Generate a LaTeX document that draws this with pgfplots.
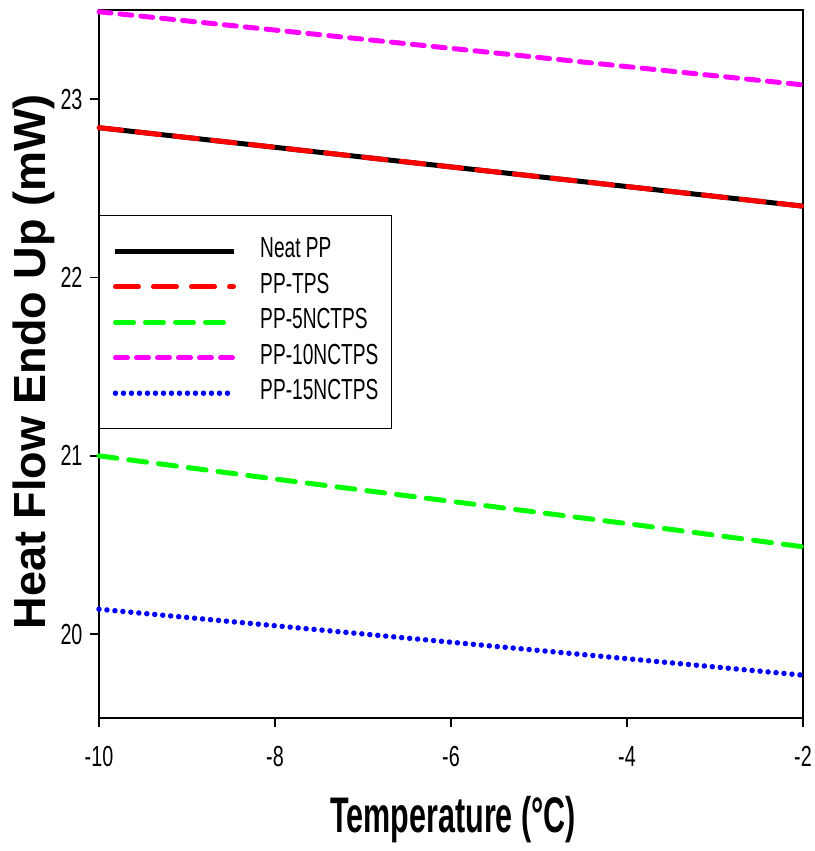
\documentclass[border=0pt]{standalone}
\usepackage{fontspec}
\setmainfont{Liberation Sans}
\newfontfamily\narrowfont[FakeStretch=0.68]{Liberation Sans}
\newfontfamily\legfont[FakeStretch=0.66]{Liberation Sans}
\newfontfamily\xlabfont[FakeStretch=0.61]{Liberation Sans}
\usepackage{pgfplots}
\pgfplotsset{compat=1.18}
\definecolor{myred}{RGB}{255,0,0}
\definecolor{mygreen}{RGB}{0,255,0}
\definecolor{mymag}{RGB}{255,0,255}
\definecolor{myblue}{RGB}{0,0,255}
\begin{document}
\begin{tikzpicture}
\begin{axis}[
  at={(0pt,0pt)}, anchor=south west,
  scale only axis,
  width=704pt, height=708pt,
  xmin=-10, xmax=-2,
  ymin=19.53, ymax=23.50,
  xtick={-10,-8,-6,-4,-2},
  ytick={20,21,22,23},
  xtick pos=left, ytick pos=left,
  tick align=outside,
  major tick length=9pt,
  every tick/.style={black, line width=1.5pt},
  axis line style={line width=1.5pt},
  /pgf/number format/assume math mode=true,
  ticklabel style={font=\narrowfont\fontsize{29}{33}\selectfont},
  xticklabel style={yshift=-16pt},
  yticklabel style={xshift=-4pt},
  xlabel={Temperature (°C)},
  ylabel={Heat Flow Endo Up (mW)},
  xlabel style={font=\xlabfont\bfseries\fontsize{50}{54}\selectfont, at={(axis description cs:0.503,-0.144)}, anchor=center},
  ylabel style={font=\bfseries\fontsize{45}{50}\selectfont, at={(axis description cs:-0.0923,0.503)}, anchor=center},
  clip=false,
  legend image code/.code={\draw[#1] (0pt,0pt) -- (118pt,0pt);},
  legend cell align=left,
  legend style={
    at={(axis description cs:0,0.7105)}, anchor=north west,
    draw=black, line width=1.5pt, fill=white,
    font=\legfont\fontsize{29}{33}\selectfont,
    inner xsep=13pt, inner ysep=24pt,
    row sep=12.5pt, column sep=24pt,
    nodes={inner sep=0pt, text height=18pt, text depth=5pt},
  },
]
\addplot[black, line width=5pt] coordinates {(-10,22.84) (-8,22.73) (-6,22.62) (-4,22.51) (-2,22.40)};
\addlegendentry{Neat PP}
\addplot[myred, line width=5pt, line cap=round, dash pattern=on 23pt off 15pt] coordinates {(-10,22.84) (-8,22.73) (-6,22.62) (-4,22.51) (-2,22.40)};
\addlegendentry{PP-TPS}
\addplot[mygreen, line width=5pt, line cap=round, dash pattern=on 18pt off 12pt] coordinates {(-10,21.00) (-8,20.87) (-6,20.745) (-4,20.62) (-2,20.49)};
\addlegendentry{PP-5NCTPS}
\addplot[mymag, line width=5pt, line cap=round, dash pattern=on 12pt off 9pt] coordinates {(-10,23.49) (-8,23.3875) (-6,23.285) (-4,23.1825) (-2,23.08)};
\addlegendentry{PP-10NCTPS}
\addplot[myblue, line width=5.5pt, line cap=round, dash pattern=on 0pt off 8pt] coordinates {(-10,20.14) (-8,20.0475) (-6,19.955) (-4,19.8625) (-2,19.77)};
\addlegendentry{PP-15NCTPS}
\end{axis}
\pgfresetboundingbox
\path (-99pt,-133pt) rectangle (715pt,718pt);
\end{tikzpicture}
\end{document}
